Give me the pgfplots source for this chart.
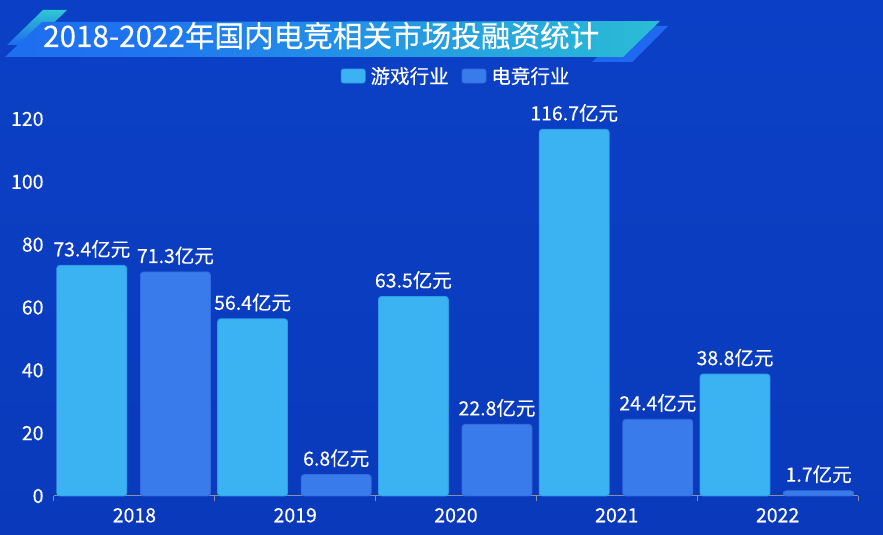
\documentclass[border=0pt]{standalone}
\usepackage{fontspec}
\setmainfont{Noto Sans CJK SC}[FakeBold=0.3]
\usepackage{pgfplots}
\pgfplotsset{compat=1.18}

\definecolor{bgtop}{HTML}{0B40C6}
\definecolor{bgmid}{HTML}{0937B4}
\definecolor{bgbot}{HTML}{0A3ABB}
\definecolor{bannerL}{HTML}{1B5FEE}
\definecolor{bannerM}{HTML}{1F74F0}
\definecolor{bannerN}{HTML}{2BC2D3}
\definecolor{bannerR}{HTML}{30D8C4}
\definecolor{accentblue}{HTML}{1F68F0}
\definecolor{accentteal}{HTML}{2EC8D0}
\definecolor{lightbar}{HTML}{3BB3F3}
\definecolor{lightedge}{HTML}{2F9BEA}
\definecolor{darkbar}{HTML}{3A7BEB}
\definecolor{darkedge}{HTML}{326CDE}
\definecolor{axisgray}{HTML}{8A8FA8}

\pgfdeclarehorizontalshading{banner}{100bp}{color(0bp)=(bannerL); color(35bp)=(bannerM); color(78bp)=(bannerN); color(100bp)=(bannerR)}

\newcommand{\lblfont}{\fontsize{19.5}{23}\selectfont}

\begin{document}
\begin{tikzpicture}[x=1pt,y=1pt]
% background
\useasboundingbox (0,0) rectangle (883,535);
\shade[top color=bgtop, middle color=bgmid, bottom color=bgbot] (0,0) rectangle (883,535);

% title banner
\shade[top color=accentteal, bottom color=accentblue] (7,490) -- (43,525) -- (67,525) -- (31,490) -- cycle;
\fill[accentblue] (592,473) -- (628,509) -- (668,509) -- (632,473) -- cycle;
\shade[shading=banner] (5,478) -- (42,513) -- (660,514) -- (623,478) -- cycle;
\node[anchor=base west, inner sep=0pt, text=white, font=\fontsize{29.6}{32}\selectfont]
  at (43,488) {2018-2022年国内电竞相关市场投融资统计};

\begin{axis}[
  at={(54pt,39pt)}, anchor=south west,
  scale only axis, width=804pt, height=377pt,
  xmin=-0.5, xmax=4.5, ymin=0, ymax=120,
  enlargelimits=false, clip=false,
  axis x line=bottom, axis y line=left,
  axis line style={-},
  x axis line style={draw=axisgray, line width=1pt},
  y axis line style={draw=none},
  tick align=outside,
  xtick={0,...,4},
  xticklabels={2018,2019,2020,2021,2022},
  minor xtick={-0.5,0.5,...,4.5},
  major x tick style={draw=none},
  minor x tick style={draw=axisgray, line width=1pt},
  minor tick length=5pt,
  ytick={0,20,...,120},
  major y tick style={draw=none},
  /pgf/number format/assume math mode=true,
  xticklabel style={font=\lblfont, text=white, anchor=base, inner sep=0pt, yshift=-22pt},
  yticklabel style={font=\lblfont, text=white, anchor=east, inner sep=0pt, xshift=-6pt},
  ybar, bar width=0.435,
  nodes near coords={\pgfmathprintnumber[fixed,fixed zerofill,precision=1]{\pgfplotspointmeta}亿元},
  nodes near coords style={font=\lblfont, text=white, anchor=base, inner sep=0pt, yshift=9pt},
  legend columns=2,
  legend style={at={(0.502,1.114)}, anchor=center, draw=none, fill=none,
    text=white, font=\lblfont, inner sep=0pt,
    /tikz/every even column/.append style={column sep=8pt},
    nodes={inner xsep=5pt}},
  legend image code/.code={\fill[#1, rounded corners=2.5pt] (0pt,-7pt) rectangle (24pt,7pt);},
]
\addplot[fill=lightbar, draw=lightedge, line width=0.8pt, bar shift=-0.265, rounded corners=3pt]
  coordinates {(0,73.4) (1,56.4) (2,63.5) (3,116.7) (4,38.8)};
\addplot[fill=darkbar, draw=darkedge, line width=0.8pt, bar shift=0.255, rounded corners=3pt]
  coordinates {(0,71.3) (1,6.8) (2,22.8) (3,24.4) (4,1.7)};
\legend{游戏行业, 电竞行业}
\end{axis}
\end{tikzpicture}
\end{document}
